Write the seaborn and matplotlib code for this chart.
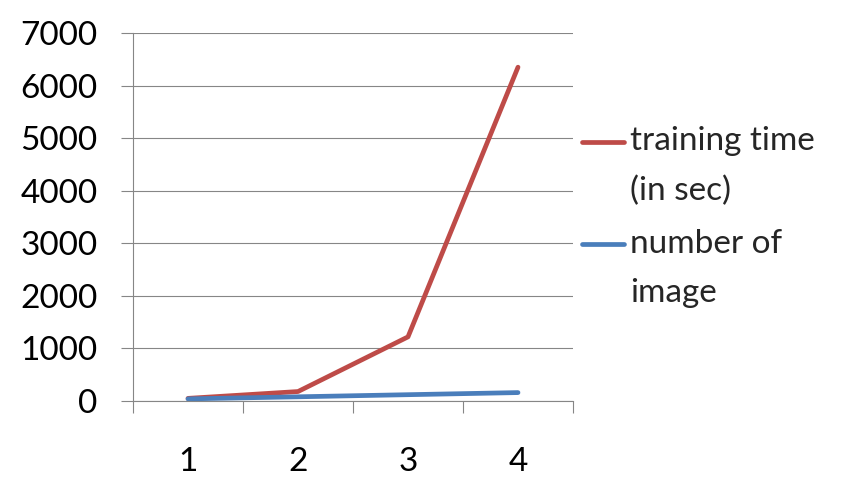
import pandas as pd
import matplotlib
matplotlib.use("Agg")
import matplotlib.pyplot as plt
import seaborn as sns

# data
steps = [1, 2, 3, 4]
training_time = [50, 180, 1220, 6350]
number_of_image = [40, 80, 120, 160]
series_names = ["training time\n(in sec)", "number of\nimage"]
colors = ["#BE4B48", "#4A7EBB"]

df = pd.DataFrame({
    "step": steps * 2,
    "value": training_time + number_of_image,
    "series": [series_names[0]] * 4 + [series_names[1]] * 4,
})

sns.set_theme(style="white")
plt.rcParams["font.family"] = ["Lato", "DejaVu Sans"]

grey = "#868686"
fs = 24

fig = plt.figure(figsize=(8.67, 5.04), dpi=100)
ax = fig.add_axes([133 / 867, 1 - 401 / 504, 440 / 867, 368 / 504])

sns.lineplot(data=df, x="step", y="value", hue="series", palette=colors,
             linewidth=3.4, legend=False, ax=ax, sort=False)
for ln in ax.lines:
    ln.set_clip_on(False)
    ln.set_solid_capstyle("round")

ax.set_xlim(0.5, 4.5)
ax.set_ylim(0, 7000)
ax.set_yticks(range(0, 7001, 1000))
ax.set_xticks(steps)
ax.set_xticks([0.5, 1.5, 2.5, 3.5, 4.5], minor=True)
ax.set_xlabel("")
ax.set_ylabel("")

ax.grid(axis="y", color=grey, linewidth=0.8)
ax.set_axisbelow(True)
for side in ["top", "right"]:
    ax.spines[side].set_visible(False)
for side in ["left", "bottom"]:
    ax.spines[side].set_color(grey)
    ax.spines[side].set_linewidth(0.8)

ax.tick_params(axis="y", which="major", left=True, length=8.6, width=0.8,
               color=grey, pad=17, labelsize=fs, labelcolor="black")
ax.tick_params(axis="x", which="major", bottom=True, length=0, pad=33,
               labelsize=fs, labelcolor="black")
ax.tick_params(axis="x", which="minor", bottom=True, length=8.6, width=0.8,
               color=grey)

leg = ax.legend(ax.lines, series_names, loc="upper left",
                bbox_to_anchor=(582 / 867, 1 - 126 / 504),
                bbox_transform=fig.transFigure, frameon=False, fontsize=fs,
                handlelength=1.25, handletextpad=0.2, borderpad=0,
                borderaxespad=0, labelspacing=0.68)
for t in leg.get_texts():
    t.set_linespacing(1.8)
for ln in leg.get_lines():
    ln.set_ydata([y + 17.5 for y in ln.get_ydata()])
    ln.set_linewidth(3.4)

fig.savefig("out.png", dpi=100)
